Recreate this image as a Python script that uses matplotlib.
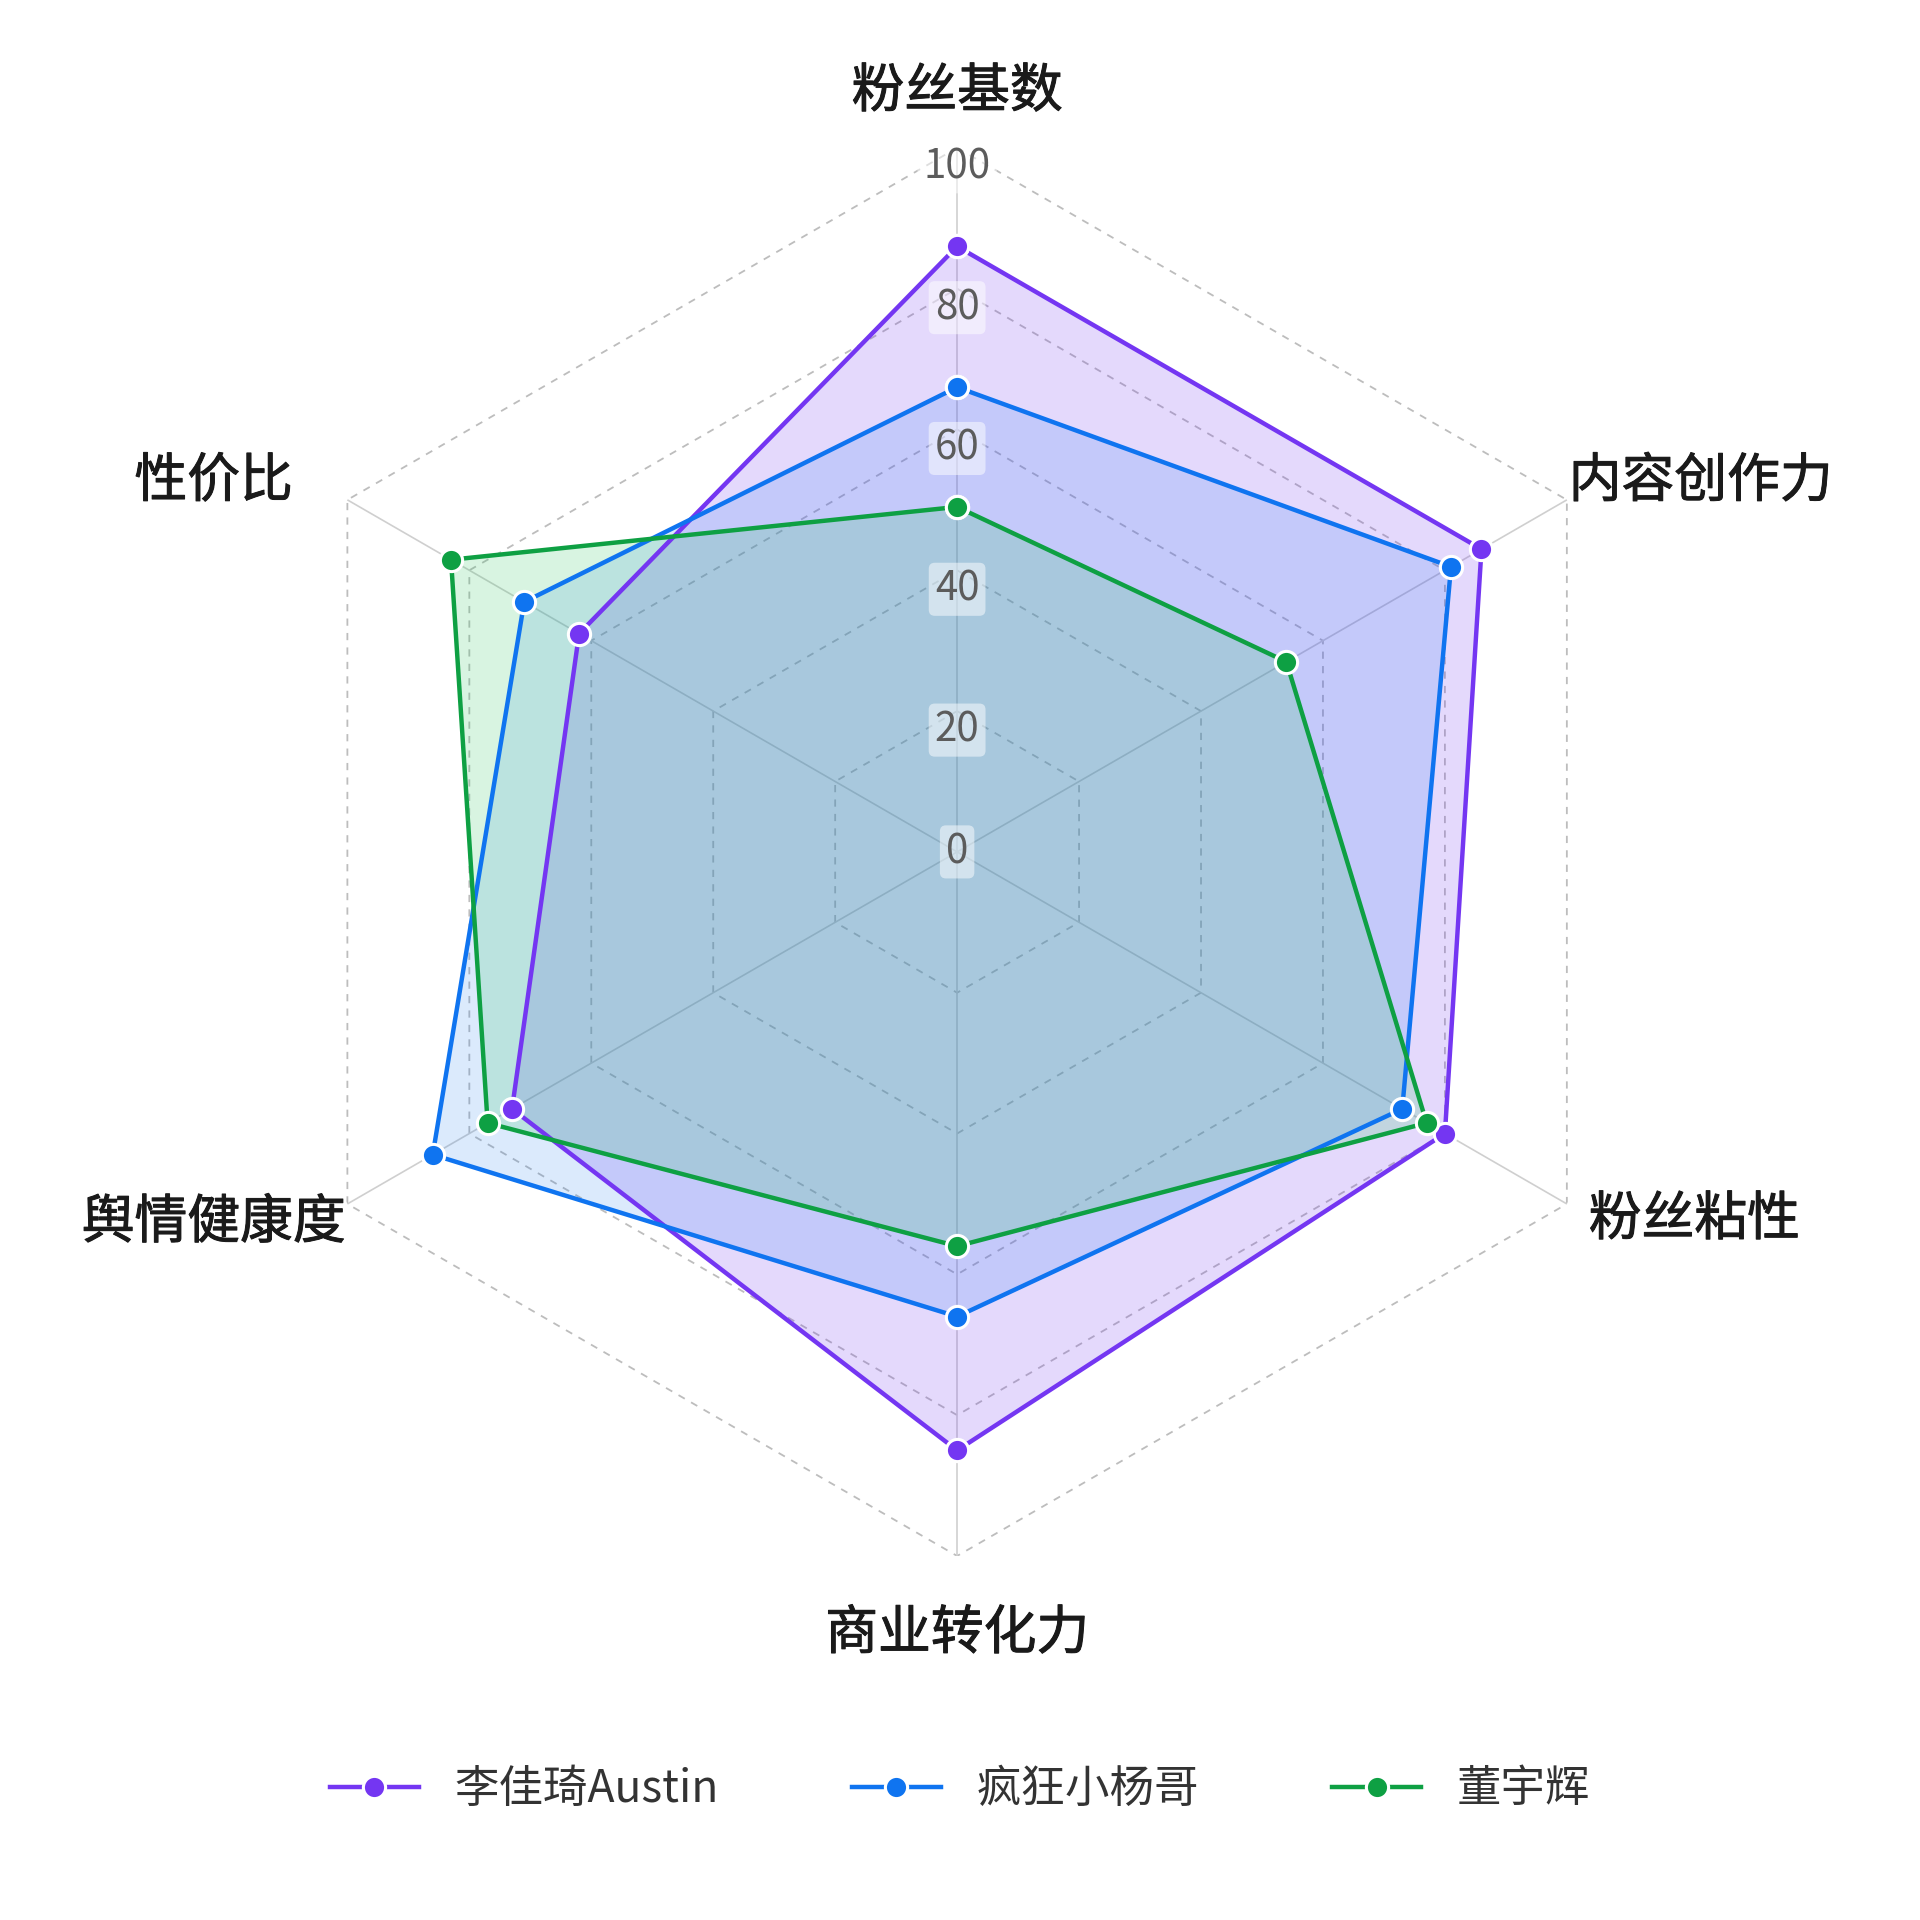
import numpy as np
import matplotlib
matplotlib.use('Agg')
import matplotlib.pyplot as plt
import matplotlib.patheffects as pe

plt.rcParams['font.family'] = ['Noto Sans CJK SC', 'DejaVu Sans']

# -- data --
CATEGORIES = ['粉丝基数', '内容创作力', '粉丝粘性', '商业转化力', '舆情健康度', '性价比']
SERIES_NAMES = ['李佳琦Austin', '疯狂小杨哥', '董宇辉']
LI_JIAQI = [86, 86, 80, 85, 73, 62]
XIAO_YANG_GE = [66, 81, 73, 66, 86, 71]
DONG_YUHUI = [49, 54, 77, 56, 77, 83]
RING_TICKS = [0, 20, 40, 60, 80, 100]

COLORS = ['#7436f2', '#0f74f0', '#0ea043']
FILL_COLORS = ['#7436f2', '#0f74f0', '#32c864']
FILL_ALPHA = [0.19, 0.15, 0.19]
# label placement (radius, angular tilt in degrees towards horizontal)
LABEL_R = [108, 118, 117, 111, 118, 118]
LABEL_TILT = [0, 3.5, -3.5, 0, 3.5, -3.5]

fig = plt.figure(figsize=(19.2, 19.2), dpi=100)
fig.patch.set_facecolor('white')
ax = fig.add_axes([0.1318, 0.1896, 0.7334, 0.7334], projection='polar')
ax.set_theta_offset(np.pi / 2)
ax.set_theta_direction(-1)
ax.set_ylim(0, 100)
ax.set_xticks([])
ax.set_yticks([])
ax.grid(False)
ax.spines['polar'].set_visible(False)
ax.set_facecolor('none')

n = len(CATEGORIES)
angles = np.arange(n) * 2 * np.pi / n
closed = np.append(angles, angles[0])

# hexagon rings + spokes
for v in RING_TICKS[1:]:
  ax.plot(closed, [v] * (n + 1), color='#bdbdbd', lw=1.3,
          ls=(0, (4, 4)), zorder=1)
for a in angles:
  ax.plot([a, a], [0, 100], color='#cfcfcf', lw=1.2, zorder=1)

series = [LI_JIAQI, XIAO_YANG_GE, DONG_YUHUI]
handles = []
for vals, fc, al in zip(series, FILL_COLORS, FILL_ALPHA):
  v = np.append(vals, vals[0])
  ax.fill(closed, v, color=fc, alpha=al, lw=0, zorder=2)
for vals, name, c in zip(series, SERIES_NAMES, COLORS):
  v = np.append(vals, vals[0])
  h, = ax.plot(closed, v, color=c, lw=3.2, marker='o', ms=16,
               mfc=c, mec='white', mew=2.2, zorder=3, label=name)
  handles.append(h)

# radial tick labels along the top axis
for v in RING_TICKS:
  r = v - 2.7 if v else 0
  ax.text(0, r, str(v), ha='center', va='center', fontsize=29,
          color='#5c5c5c', zorder=5,
          bbox=dict(boxstyle='round,pad=0.15', fc='white', ec='none',
                    alpha=0.5))

# category labels (slight stroke for a medium weight look)
for a, name, r, tilt in zip(angles, CATEGORIES, LABEL_R, LABEL_TILT):
  ax.text(a + np.deg2rad(tilt), r, name, ha='center', va='center',
          fontsize=38, color='#1a1a1a', clip_on=False,
          path_effects=[pe.withStroke(linewidth=0.7, foreground='#1a1a1a')])

fig.legend(handles, SERIES_NAMES, loc='center', bbox_to_anchor=(0.5, 0.068),
           ncol=3, frameon=False, fontsize=32, handlelength=2.0,
           handletextpad=0.8, columnspacing=3.0, markerscale=1.0,
           labelcolor='#333333')

fig.savefig('out.png', dpi=100, facecolor='white')
